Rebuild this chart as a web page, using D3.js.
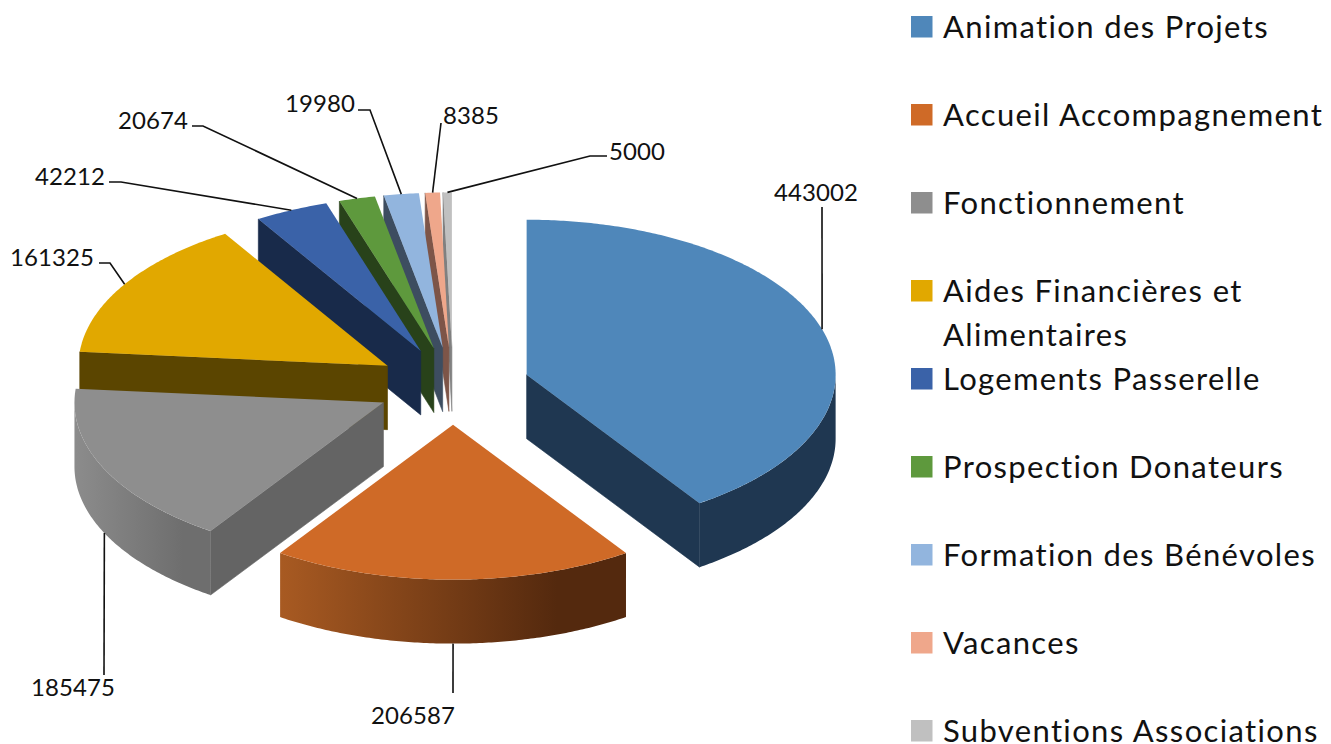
<!DOCTYPE html>
<html><head><meta charset="utf-8">
<script src="https://cdn.jsdelivr.net/npm/d3@7/dist/d3.min.js"></script>
<style>html,body{margin:0;padding:0;background:#fff}svg{display:block}text{font-family:Lato,"Open Sans",sans-serif;fill:#111}</style>
</head><body><svg id="c" width="1331" height="744"></svg>
<script>
const categories=["Animation des Projets","Accueil Accompagnement","Fonctionnement","Aides Financières et Alimentaires","Logements Passerelle","Prospection Donateurs","Formation des Bénévoles","Vacances","Subventions Associations"];
const values=[443002,206587,185475,161325,42212,20674,19980,8385,5000];
const topColors=["#4F87BA","#CF6A27","#8E8E8E","#E1A800","#3A62A8","#5E993D","#92B5DE","#EFA78B","#C0C0C0"];
const cutColors=["#1F3751","#6A3410","#646464","#5B4500","#182A4A","#28421A","#3D4D60","#7D5548","#808080"];
const wallStops=[["#1F3751","#1F3751"],["#A85A22","#54290E"],["#8C8C8C","#6E6E6E"],["#5B4500","#5B4500"],["#182A4A","#182A4A"],["#28421A","#28421A"],["#3D4D60","#3D4D60"],["#7D5548","#7D5548"],["#808080","#808080"]];
// label layout: text anchor position, and the elbow points of each leader
const labelPos=[[816,193,"middle"],[413,716,"middle"],[73,688,"middle"],[52,258,"middle"],[70,177,"middle"],[153,121,"middle"],[320,104,"middle"],[471,116,"middle"],[637,152,"middle"]];
const leaderElbows=[[[822,207]],[[453,693]],[[104,675]],[[99,263],[110,263]],[[109,182],[121,182]],[[192,126],[203,126]],[[358,110],[370,110]],[[441,123]],[[607,156],[590,156]]];

const CX=453,CY=386,RX=309,RY=155,DEPTH=64,EXPLODE=77;
const svg=d3.select("#c");
const defs=svg.append("defs");
const arcs=d3.pie().sort(null)(values);
const TAU=Math.PI*2;
const sx=d3.scaleLinear().domain([-1,1]).range([-RX,RX]);
const sy=d3.scaleLinear().domain([-1,1]).range([-RY,RY]);
const line=d3.line();
const rim=(c,a,dz=0)=>[c[0]+sx(Math.sin(a)),c[1]+sy(-Math.cos(a))+dz];
const samples=(a0,a1)=>{const n=Math.max(2,Math.ceil((a1-a0)/0.01));return d3.range(n+1).map(i=>a0+(a1-a0)*i/n);};
const slices=arcs.map((d,i)=>{
  const mid=(d.startAngle+d.endAngle)/2;
  const c=[CX+EXPLODE*Math.sin(mid),CY+EXPLODE*(RY/RX)*(-Math.cos(mid))];
  return {i,a0:d.startAngle,a1:d.endAngle,mid,c};
});
const depthOrder=slices.slice().sort((p,q)=>Math.min(p.mid,TAU-p.mid)-Math.min(q.mid,TAU-q.mid));
const g=svg.append("g");
depthOrder.forEach(s=>{
  const {i,a0,a1,c}=s;
  const lo=Math.max(a0,Math.PI/2),hi=Math.min(a1,Math.PI*1.5);
  const cutFace=a=>{
    const p=rim(c,a);
    g.append("path").attr("d",line([c,p,[p[0],p[1]+DEPTH],[c[0],c[1]+DEPTH]])+"Z")
      .attr("fill",cutColors[i]).attr("stroke",cutColors[i]).attr("stroke-width",0.6);
  };
  if(Math.sin(a0)<-1e-6) cutFace(a0);
  if(Math.sin(a1)>1e-6) cutFace(a1);
  if(hi>lo){
    const xa=rim(c,lo)[0],xb=rim(c,hi)[0];
    const id="wall"+i;
    const gr=defs.append("linearGradient").attr("id",id).attr("gradientUnits","userSpaceOnUse")
      .attr("x1",Math.min(xa,xb)).attr("x2",Math.max(xa,xb)).attr("y1",0).attr("y2",0);
    gr.append("stop").attr("offset",0).attr("stop-color",wallStops[i][0]);
    gr.append("stop").attr("offset",.8).attr("stop-color",wallStops[i][1]);
    gr.append("stop").attr("offset",1).attr("stop-color",wallStops[i][1]);
    const top=samples(lo,hi).map(a=>rim(c,a));
    const bot=samples(lo,hi).reverse().map(a=>rim(c,a,DEPTH));
    g.append("path").attr("d",line(top.concat(bot))+"Z").attr("fill",`url(#${id})`);
  }
  g.append("path").attr("d",line([c].concat(samples(a0,a1).map(a=>rim(c,a))))+"Z").attr("fill",topColors[i]);
});
// leaders
slices.forEach(s=>{
  const front=Math.cos(s.mid)<0;
  const end=rim(s.c,s.mid,front?DEPTH:0);
  svg.append("path").attr("d",line(leaderElbows[s.i].concat([end]))).attr("fill","none").attr("stroke","#111").attr("stroke-width",1.6);
});
// value labels
values.forEach((v,i)=>{
  svg.append("text").attr("x",labelPos[i][0]).attr("y",labelPos[i][1]).attr("dy","0.35em").attr("text-anchor",labelPos[i][2])
    .attr("font-size",24).attr("letter-spacing",0.1).text(v);
});
// legend
const ly=d3.scaleLinear().domain([0,1]).range([27,115]);
categories.forEach((name,i)=>{
  const y=ly(i);
  svg.append("rect").attr("x",911).attr("y",y-11).attr("width",21.5).attr("height",21.5).attr("fill",topColors[i]);
  const parts=i===3?["Aides Financières et","Alimentaires"]:[name];
  parts.forEach((t,k)=>{
    svg.append("text").attr("x",943).attr("y",y+k*44).attr("dy","0.35em").attr("font-size",31).attr("letter-spacing",1.35).text(t);
  });
});
</script></body></html>
